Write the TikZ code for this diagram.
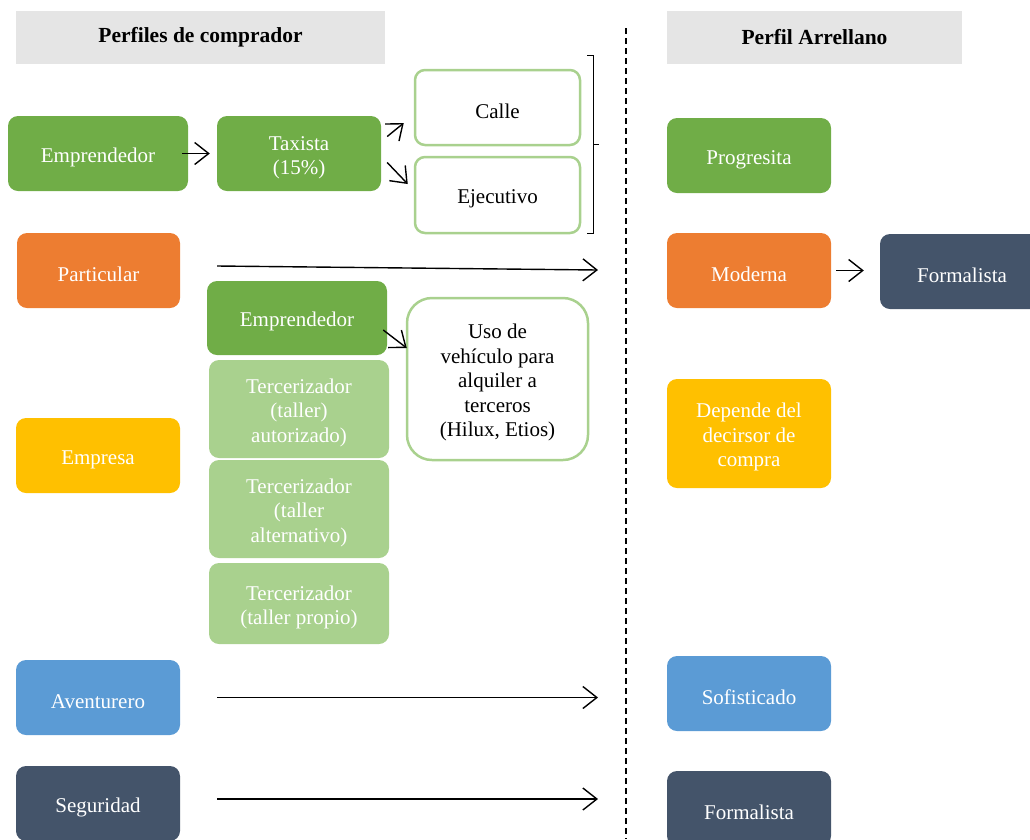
\documentclass[tikz,border=0pt]{standalone}
\usepackage{fontspec}
\setmainfont{Liberation Serif}
\usetikzlibrary{arrows.meta,calc}
\definecolor{cgreen}{HTML}{70AD47}
\definecolor{corange}{HTML}{ED7D31}
\definecolor{cyellow}{HTML}{FFC000}
\definecolor{cblue}{HTML}{5B9BD5}
\definecolor{cdark}{HTML}{44546A}
\definecolor{clight}{HTML}{A9D18E}
\definecolor{cgray}{HTML}{E5E5E5}
\newcommand{\myst}{\rule{0pt}{22pt}}
\tikzset{
  box/.style={rounded corners=10pt, inner sep=0pt, align=center, text=white,
    font=\fontsize{21}{24.4}\selectfont, minimum width=164pt, minimum height=75pt},
  wbox/.style={box, fill=white, draw=clight, line width=2.5pt, text=black},
  hdr/.style={fill=cgray, inner sep=0pt, minimum height=53pt, font=\fontsize{21.5}{24}\selectfont\bfseries},
  arr/.style={line width=1.4pt, -{Straight Barb[length=14pt,width=22pt]}},
}
\begin{document}
\begin{tikzpicture}[x=1pt,y=-1pt]
\useasboundingbox (0,0) rectangle (1030,839);
\clip (0,0) rectangle (1030,839);
% headers
\node[hdr, minimum width=369pt] (h1) at (200.5,37.5) {Perfiles de comprador};
\node[hdr, minimum width=295pt] (h2) at (814.5,37.5) {Perfil Arrellano};
% dashed divider
\coordinate (dt) at (626,28);
\coordinate (db) at (626,839);
\draw[line width=1.5pt, dash pattern=on 6pt off 4pt] (dt) -- (db);
% left column
\node[box, fill=cgreen, minimum width=180pt] (e1) at (98,153.5) {\myst Emprendedor};
\node[box, fill=cgreen] (tax) at (299,153.5) {\myst Taxista\\(15\%)};
\node[wbox, minimum width=165pt] (calle) at (497.5,107.5) {\myst Calle};
\node[wbox, minimum width=165pt, minimum height=76pt] (ejec) at (497.5,195) {\myst Ejecutivo};
\node[box, fill=corange, minimum width=163pt] (part) at (98.5,270.5) {\myst Particular};
\node[box, fill=cgreen, minimum width=180pt, minimum height=74pt] (e2) at (297,318) {\myst Emprendedor};
\node[box, fill=clight, minimum width=180pt, minimum height=98pt] (t1) at (299,409) {\myst Tercerizador\\(taller)\\autorizado)};
\node[box, fill=clight, minimum width=180pt, minimum height=98pt] (t2) at (299,509) {\myst Tercerizador\\(taller\\alternativo)};
\node[box, fill=clight, minimum width=180pt, minimum height=81pt] (t3) at (299,603.5) {\myst Tercerizador\\(taller propio)};
\node[wbox, rounded corners=25pt, minimum width=181pt, minimum height=162pt] (uso) at (497.5,379) {\myst Uso de\\veh\'iculo para\\alquiler a\\terceros\\(Hilux, Etios)};
\node[box, fill=cyellow] (emp) at (98,455.5) {\myst Empresa};
\node[box, fill=cblue] (av) at (98,697.5) {\myst Aventurero};
\node[box, fill=cdark] (seg) at (98,803.5) {\myst Seguridad};
% right column
\node[box, fill=cgreen] (prog) at (749,155.5) {\myst Progresita};
\node[box, fill=corange] (mod) at (749,270.5) {\myst Moderna};
\node[box, fill=cdark] (form) at (962,271.5) {\myst Formalista};
\node[box, fill=cyellow, minimum height=109pt] (dep) at (749,433.5) {\myst Depende del\\decirsor de\\compra};
\node[box, fill=cblue] (sof) at (749,693.5) {\myst Sofisticado};
\node[box, fill=cdark] (form2) at (749,808.5) {\myst Formalista};
% bracket
\coordinate (bt) at (587,55);
\coordinate (bb) at (587,233);
\coordinate (bm) at (593,144);
\draw[line width=1pt] (bt) -- ++(6,0) -- ($(bb)+(6,0)$) -- (bb);
\draw[line width=1pt] (bm) -- ++(6,0);
% connectors
\draw[arr, shorten <=-6pt, shorten >=7pt] (e1.east) -- (tax.west);
\draw[arr] ($(tax.east)+(6,-17)$) -- ($(calle.west)+(-10,15.5)$);
\draw[arr] ($(tax.east)+(6,9)$) -- ($(ejec.west)+(-6,-11)$);
\coordinate (pe) at (598,270);
\draw[arr] ($(part.east)+(37,-4.5)$) -- (pe);
\draw[arr] ($(e2.east)+(-4,12)$) -- ($(uso.west)+(1,-31)$);
\coordinate (ave) at (598,697.5);
\draw[arr] ($(av.east)+(37,0)$) -- (ave);
\coordinate (sege) at (598,799);
\draw[arr] ($(seg.east)+(37,-4.5)$) -- (sege);
\draw[arr, shorten <=5pt, shorten >=16pt] (mod.east) -- (mod.east -| form.west);
\end{tikzpicture}
\end{document}
